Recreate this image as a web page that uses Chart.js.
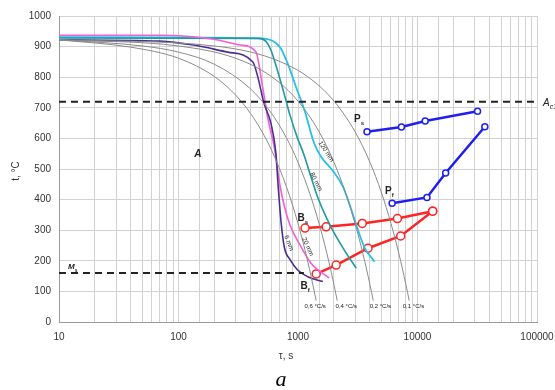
<!DOCTYPE html>
<html>
<head>
<meta charset="utf-8">
<script src="https://cdn.jsdelivr.net/npm/chart.js@4/dist/chart.umd.min.js"></script>
<style>
  html, body { margin: 0; padding: 0; background: #fff; }
  #wrap { width: 555px; height: 390px; }
</style>
</head>
<body>
<div id="wrap"><canvas id="cct"></canvas></div>
<script>
'use strict';

// time ticks (s) and temperature range
var xTicks = [10, 100, 1000, 10000, 100000];
var yMin = 0, yMax = 1000, yStep = 100;

// critical temperatures
var ac1 = 720;
var ms = 160;
var msEnd = 1120;

// cooling curves at constant rate, [time s, temp C]
var rate06 = [[10,922],[40,898],[100,862],[200,802],[300,742],[400,682],[500,622],[600,562],[800,442],[1000,322],[1200,202],[1420,70]];
var rate04 = [[10,922],[50,902],[100,882],[200,842],[400,762],[600,682],[800,602],[1000,522],[1300,402],[1600,282],[1900,162],[2130,70]];
var rate02 = [[10,922],[100,902],[300,862],[600,802],[1000,722],[1500,622],[2000,522],[2500,422],[3000,322],[3500,222],[4000,122],[4260,70]];
var rate01 = [[10,922],[200,902],[600,862],[1200,802],[2000,722],[3000,622],[4000,522],[5000,422],[6000,322],[7000,222],[8000,122],[8520,70]];

// cooling curves by thickness
var mm6 = [[10,922],[70,918],[134,905],[258,882],[419,850],[461,801],[518,716],[593,650],[653,552],[683,442],[719,333],[767,246],[861,203],[993,170],[1207,148],[1614,132]];
var mm20 = [[10,937],[71,937],[197,924],[332,905],[444,883],[505,769],[563,660],[632,573],[710,442],[829,333],[1059,246],[1285,192],[1820,144]];
var mm80 = [[10,928],[470,927],[538,918],[593,889],[679,817],[763,748],[857,676],[982,605],[1123,546],[1285,474],[1470,405],[1890,310],[2440,235],[3070,176]];
var mm120 = [[10,931],[489,927],[632,916],[719,894],[819,845],[961,769],[1145,686],[1362,585],[1560,540],[1968,493],[2389,441],[2620,399],[3590,245],[4375,197]];

// transformation start / finish
var pearliteStart = [[3780,622],[7340,637],[11600,657],[31800,689]];
var pearliteFinish = [[6130,388],[12000,407],[17200,487],[36600,638]];
var bainiteStart = [[1145,307],[1720,311],[3450,322],[6790,338],[13400,362]];
var bainiteFinish = [[1420,157],[2085,186],[3850,241],[7240,281],[13400,362]];

function pts(arr) {
  return arr.map(function (p) { return { x: p[0], y: p[1] }; });
}

function curve(arr, color, width) {
  return {
    data: pts(arr),
    borderColor: color,
    borderWidth: width,
    pointRadius: 0,
    showLine: true,
    cubicInterpolationMode: 'monotone',
    fill: false
  };
}

function marked(arr, color, r) {
  return {
    data: pts(arr),
    borderColor: color,
    borderWidth: 2.5,
    pointRadius: r,
    pointBorderWidth: 1.5,
    pointBackgroundColor: '#fff',
    pointBorderColor: color,
    showLine: true,
    tension: 0,
    fill: false
  };
}

function dashed(y, x0, x1) {
  return {
    data: [{ x: x0, y: y }, { x: x1, y: y }],
    borderColor: '#222',
    borderWidth: 2,
    borderDash: [7, 5],
    pointRadius: 0,
    showLine: true,
    fill: false
  };
}

var grey = '#8a8a8a';

function subText(ctx, main, sub, x, y, font, subFont) {
  ctx.font = font;
  ctx.textAlign = 'left';
  ctx.textBaseline = 'alphabetic';
  ctx.fillText(main, x, y);
  var w = ctx.measureText(main).width;
  ctx.font = subFont;
  ctx.fillText(sub, x + w, y + 3);
}

var labels = {
  id: 'labels',
  afterDraw: function (chart) {
    var ctx = chart.ctx;
    var sx = chart.scales.x, sy = chart.scales.y;
    function X(v) { return sx.getPixelForValue(v); }
    function Y(v) { return sy.getPixelForValue(v); }
    ctx.save();
    ctx.fillStyle = '#222';

    ctx.font = 'italic bold 10px "Liberation Sans", Arial, sans-serif';
    ctx.textAlign = 'center';
    ctx.textBaseline = 'middle';
    ctx.fillText('A', X(145), Y(549));

    var big = 'bold 10px "Liberation Sans", Arial, sans-serif';
    var small = 'bold 6px "Liberation Sans", Arial, sans-serif';
    subText(ctx, 'P', 's', X(3300) - 6, Y(667) + 4, big, small);
    subText(ctx, 'P', 'f', X(6000) - 6, Y(431) + 4, big, small);
    subText(ctx, 'B', 's', X(1110) - 6, Y(344) + 4, big, small);
    subText(ctx, 'B', 'f', X(1180) - 6, Y(121) + 4, big, small);
    subText(ctx, 'M', 's', X(12.6) - 3, Y(183) + 3,
      'italic bold 8px "Liberation Sans", Arial, sans-serif',
      'bold 5px "Liberation Sans", Arial, sans-serif');
    subText(ctx, 'A', 'c1', X(100000) + 6, Y(ac1) + 4,
      'italic 10px "Liberation Sans", Arial, sans-serif',
      'italic 7px "Liberation Sans", Arial, sans-serif');

    // cooling rate labels
    ctx.font = '6px "Liberation Sans", Arial, sans-serif';
    ctx.textAlign = 'center';
    ctx.textBaseline = 'middle';
    [['0,6 °C/s', 1390], ['0,4 °C/s', 2530], ['0,2 °C/s', 4890], ['0,1 °C/s', 9250]].forEach(function (l) {
      ctx.fillText(l[0], X(l[1]), Y(50));
    });

    // thickness labels, rotated along their curves
    [['6 mm', 839, 258, 1.2], ['20 mm', 1205, 246, 1.15], ['80 mm', 1416, 458, 1.1], ['120 mm', 1718, 557, 1.0]].forEach(function (l) {
      ctx.save();
      ctx.translate(X(l[1]), Y(l[2]));
      ctx.rotate(l[3]);
      ctx.font = '6.5px "Liberation Sans", Arial, sans-serif';
      ctx.fillText(l[0], 0, 0);
      ctx.restore();
    });

    // axis titles
    ctx.fillStyle = '#333';
    ctx.save();
    ctx.translate(16, 171);
    ctx.rotate(-Math.PI / 2);
    ctx.font = '10px "Liberation Sans", Arial, sans-serif';
    ctx.textAlign = 'center';
    ctx.fillText('t, °C', 0, 0);
    ctx.restore();

    ctx.font = '10px "Liberation Sans", Arial, sans-serif';
    ctx.textAlign = 'center';
    ctx.fillText('τ, s', 286, 356);

    ctx.fillStyle = '#000';
    ctx.font = 'italic 22px "Liberation Serif", "Times New Roman", serif';
    ctx.fillText('a', 281, 380);
    ctx.restore();
  }
};

var ctx = document.getElementById('cct').getContext('2d');

var chart = new Chart(ctx, {
  type: 'scatter',
  data: {
    datasets: [
      dashed(ac1, 10, 100000),
      dashed(ms, 10, msEnd),
      curve(rate06, grey, 1),
      curve(rate04, grey, 1),
      curve(rate02, grey, 1),
      curve(rate01, grey, 1),
      curve(mm6, '#4a2f91', 1.6),
      curve(mm20, '#f25fd6', 1.6),
      curve(mm80, '#1f9aa0', 1.6),
      curve(mm120, '#26c1ea', 1.8),
      marked(pearliteStart, '#1f1ff0', 3),
      marked(pearliteFinish, '#1f1ff0', 3),
      marked(bainiteStart, '#ff2424', 4),
      marked(bainiteFinish, '#ff2424', 4)
    ]
  },
  options: {
    responsive: true,
    maintainAspectRatio: false,
    animation: false,
    layout: { padding: { left: 0, right: 18, top: 16, bottom: 0 } },
    plugins: { legend: { display: false }, tooltip: { enabled: false } },
    scales: {
      x: {
        type: 'logarithmic',
        min: xTicks[0],
        max: xTicks[xTicks.length - 1],
        afterFit: function (s) { s.height = 68; s.paddingLeft = 0; s.paddingRight = 0; },
        grid: { color: '#d2d2d2', drawTicks: false },
        border: { color: '#999' },
        ticks: {
          autoSkip: false,
          maxRotation: 0,
          padding: 9,
          color: '#333',
          font: { size: 10, family: '"Liberation Sans", Arial, sans-serif' },
          callback: function (v) { return xTicks.indexOf(v) >= 0 ? String(v) : ''; }
        }
      },
      y: {
        min: yMin,
        max: yMax,
        afterFit: function (s) { s.width = 59; s.paddingTop = 0; s.paddingBottom = 0; },
        grid: { color: '#d2d2d2', drawTicks: false },
        border: { color: '#999' },
        ticks: {
          stepSize: yStep,
          padding: 8,
          color: '#333',
          font: { size: 10, family: '"Liberation Sans", Arial, sans-serif' },
          callback: function (v) { return String(v); }
        }
      }
    }
  },
  plugins: [labels]
});
</script>
</body>
</html>
